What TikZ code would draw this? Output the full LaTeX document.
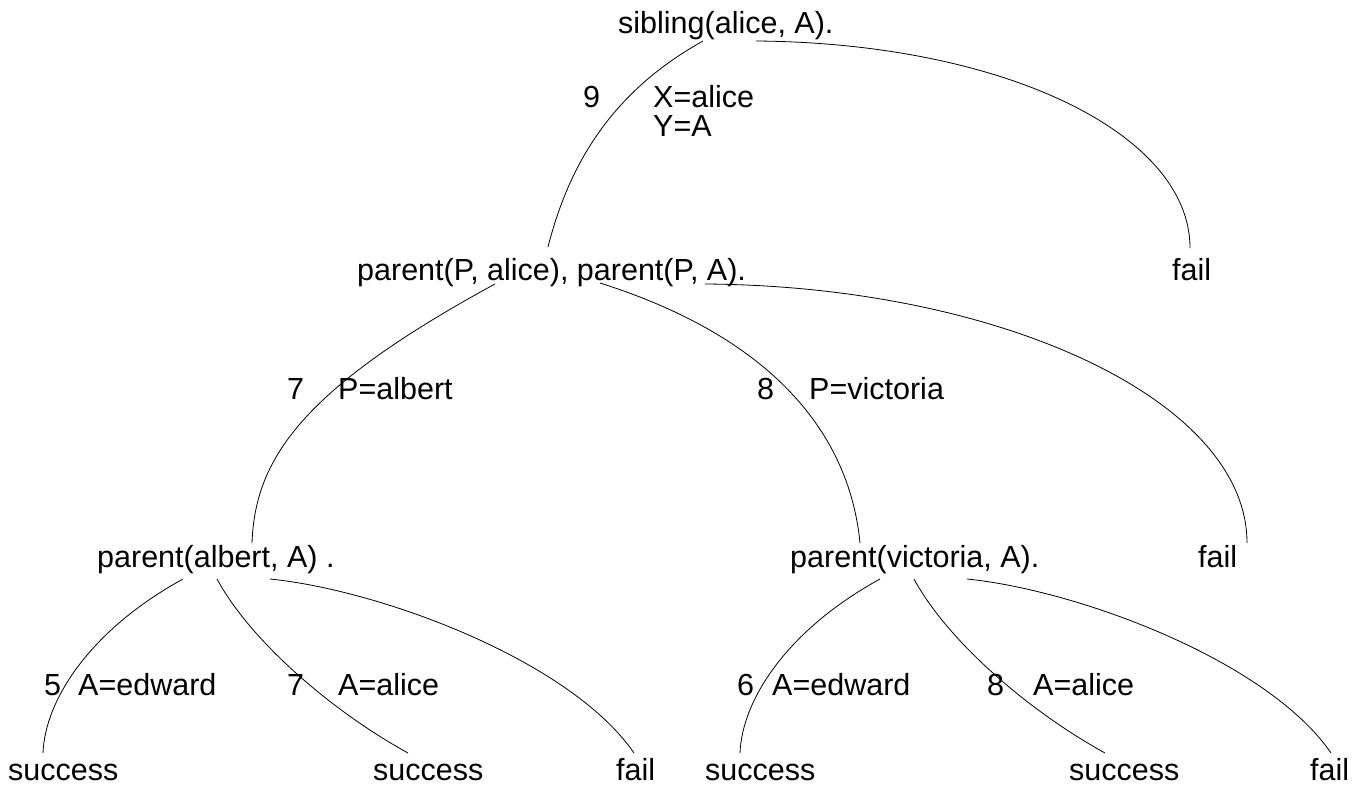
\documentclass[tikz,border=0pt]{standalone}
\usepackage{fontspec}
\setmainfont{Liberation Sans}
\begin{document}
\begin{tikzpicture}[x=1pt,y=-1pt,
  lbl/.style={anchor=base west,inner sep=0pt,font=\fontsize{30.5}{36}\selectfont},
  edge/.style={draw=black,line width=0.8pt}]
\useasboundingbox (0,0) rectangle (1364,785);
% nodes
\node[lbl] (sib) at (618,33) {sibling(alice, A).};
\node[lbl] (r9) at (583,107) {9};
\node[lbl] (sx) at (653,107) {X=alice};
\node[lbl] (sy) at (653,136) {Y=A};
\node[lbl] (pp) at (357,280) {parent(P, alice), parent(P, A).};
\node[lbl] (fail1) at (1172,280) {fail};
\node[lbl] (r7a) at (287,399) {7};
\node[lbl] (ua) at (338,399) {P=albert};
\node[lbl] (r8a) at (757,399) {8};
\node[lbl] (uv) at (809,399) {P=victoria};
\node[lbl] (pa) at (97,567) {parent(albert, A) .};
\node[lbl] (pv) at (790,567) {parent(victoria, A).};
\node[lbl] (fail2) at (1198,567) {fail};
\node[lbl] (r5) at (44,695) {5};
\node[lbl] (ue1) at (78,695) {A=edward};
\node[lbl] (r7b) at (287,695) {7};
\node[lbl] (ua1) at (338,695) {A=alice};
\node[lbl] (r6) at (737,695) {6};
\node[lbl] (ue2) at (772,695) {A=edward};
\node[lbl] (r8b) at (987,695) {8};
\node[lbl] (ua2) at (1033,695) {A=alice};
\node[lbl] (s1) at (8,780) {success};
\node[lbl] (s2) at (373,780) {success};
\node[lbl] (f3) at (616,780) {fail};
\node[lbl] (s3) at (705,780) {success};
\node[lbl] (s4) at (1069,780) {success};
\node[lbl] (f4) at (1310,780) {fail};
% connector ends
\coordinate (sibL) at (703,41);
\coordinate (sibR) at (756,41);
\coordinate (ppT) at (548,247);
\coordinate (f1T) at (1190,248);
\coordinate (ppL) at (495,284);
\coordinate (ppM) at (600,283);
\coordinate (ppR) at (705,284);
\coordinate (paT) at (252,543);
\coordinate (pvT) at (860,543);
\coordinate (f2T) at (1247,543);
\coordinate (paL) at (183,579);
\coordinate (paM) at (217,579);
\coordinate (paR) at (270,579);
\coordinate (s1T) at (43,753);
\coordinate (s2T) at (408,753);
\coordinate (f3T) at (634,753);
\coordinate (pvL) at (880,579);
\coordinate (pvM) at (914,579);
\coordinate (pvR) at (967,579);
\coordinate (s3T) at (740,753);
\coordinate (s4T) at (1105,753);
\coordinate (f4T) at (1331,753);
% connectors
\draw[edge] (sibL) .. controls (615,90) and (570,160) .. (ppT);
\draw[edge] (sibR) .. controls (1005,43) and (1190,134) .. (f1T);
\draw[edge] (ppL) .. controls (300,390) and (255,460) .. (paT);
\draw[edge] (ppM) .. controls (780,340) and (850,440) .. (pvT);
\draw[edge] (ppR) .. controls (1000,286) and (1247,400) .. (f2T);
\draw[edge] (paL) .. controls (90,630) and (45,700) .. (s1T);
\draw[edge] (paM) .. controls (250,640) and (330,710) .. (s2T);
\draw[edge] (paR) .. controls (380,590) and (570,660) .. (f3T);
\draw[edge] (pvL) .. controls (787,630) and (742,700) .. (s3T);
\draw[edge] (pvM) .. controls (947,640) and (1027,710) .. (s4T);
\draw[edge] (pvR) .. controls (1077,590) and (1267,660) .. (f4T);
\end{tikzpicture}
\end{document}
